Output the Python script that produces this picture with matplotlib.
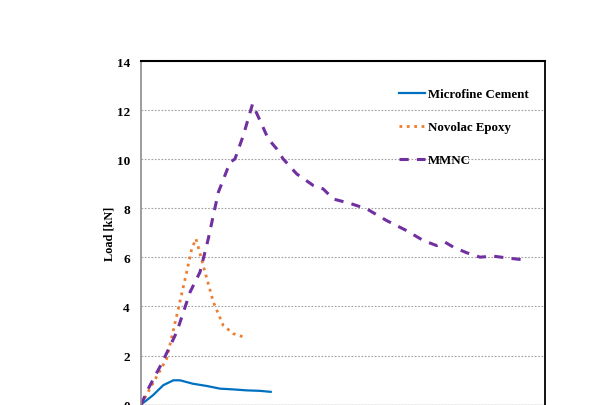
import matplotlib
matplotlib.use("Agg")
import matplotlib.pyplot as plt

# displacement [mm] (x axis is cut off in the original) and load [kN]
cement_x = [0, 0.59, 1.10, 1.60, 1.93, 2.57, 3.25, 3.91, 4.55, 5.23, 5.89, 6.42]
cement_y = [0, 0.38, 0.79, 0.99, 0.99, 0.85, 0.76, 0.65, 0.62, 0.58, 0.56, 0.52]

epoxy_x = [0, 1.27, 1.77, 2.26, 2.51, 2.72, 3.08, 3.58, 4.07, 4.57, 5.10]
epoxy_y = [0, 1.87, 3.63, 5.40, 6.35, 6.76, 5.67, 4.18, 3.23, 2.89, 2.75]

mmnc_x = [0, 0.36, 1.02, 1.77, 2.43, 2.92, 3.33, 3.83, 4.41, 4.65, 5.06, 5.52,
          6.30, 6.72, 7.04, 7.71, 8.53, 9.02, 9.52, 10.35, 11.17, 12.16, 13.15,
          13.97, 14.64, 15.05, 15.46, 16.12, 16.78, 17.44, 18.10, 18.92]
mmnc_y = [0, 0.65, 1.67, 2.96, 4.59, 5.40, 6.76, 8.66, 9.88, 10.01, 10.96, 12.25,
          10.83, 10.42, 10.01, 9.40, 8.93, 8.79, 8.38, 8.20, 7.98, 7.50, 7.09,
          6.69, 6.48, 6.62, 6.42, 6.19, 6.01, 6.05, 5.98, 5.90]

plt.rcParams['font.family'] = ['Liberation Serif', 'DejaVu Serif']
plt.rcParams['font.weight'] = 'bold'

fig = plt.figure(figsize=(5.95, 4.06), dpi=100)
ax = fig.add_axes([0.237, 0.001, 0.679, 0.846])

ax.plot(cement_x, cement_y, color='#0070C0', lw=1.6, label='Microfine Cement')
ax.plot(epoxy_x, epoxy_y, color='#ED7D31', lw=2.0, linestyle=':', label='Novolac Epoxy')
ax.plot(mmnc_x, mmnc_y, color='#7030A0', lw=2.2, dashes=(3.0, 2.7), label='MMNC')

ax.set_xlim(0, 20)
ax.set_ylim(0, 14)
ax.set_yticks(range(0, 15, 2))
ax.set_xticks([])
ax.tick_params(axis='y', length=0, labelsize=9.5, pad=8)
for lab in ax.get_yticklabels():
    lab.set_fontweight('bold')
ax.yaxis.grid(True, linestyle=(0, (1.5, 1.5)), color='#a0a0a0', lw=0.8)
ax.set_axisbelow(True)

ax.spines['left'].set_color('#8c8c8c')
ax.spines['left'].set_linewidth(1.2)
ax.spines['top'].set_linewidth(1.5)
ax.spines['right'].set_linewidth(1.3)

ax.set_ylabel('Load [kN]', fontsize=8.8, fontweight='bold', labelpad=1)

leg = ax.legend(loc='upper left', bbox_to_anchor=(0.61, 0.955), frameon=False,
                labelspacing=1.62, handlelength=2.0, handletextpad=0.25,
                prop={'weight': 'bold', 'size': 9.3})

fig.savefig('out.png', dpi=100)
